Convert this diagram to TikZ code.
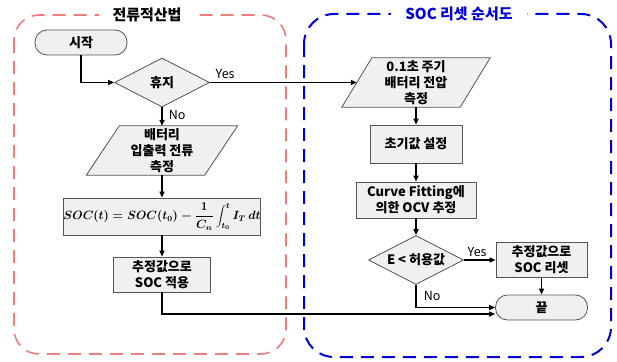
\documentclass[tikz,border=0pt]{standalone}
\usepackage{fontspec}
\setmainfont{Noto Sans CJK KR}
\usetikzlibrary{shapes.geometric,arrows.meta,backgrounds}
\definecolor{redd}{RGB}{240,125,125}
\definecolor{blued}{RGB}{0,0,215}
\definecolor{boxc}{RGB}{240,240,240}
\definecolor{bordc}{RGB}{85,85,85}
\newsavebox{\formbox}
\tikzset{
  shp/.style={draw=bordc, fill=boxc, line width=0.8pt},
  txtfont/.style={font=\fontsize{13}{16}\selectfont\bfseries},
  fbox/.style={shp, txtfont, align=center, inner sep=0pt},
  plain/.style={txtfont, align=center, inner sep=0pt},
  term/.style={shp, txtfont, rounded corners=12pt, minimum width=92pt, minimum height=25pt, inner sep=0pt},
  dia/.style={shp, txtfont, diamond, aspect=1.9, inner sep=0pt, minimum width=95pt, minimum height=49pt},
  arr/.style={-{Triangle[length=6pt,width=5pt]}, line width=1.6pt},
  lbl/.style={font=\fontsize{12.5}{14}\selectfont, inner sep=1pt},
  title/.style={font=\fontsize{15}{17}\selectfont\bfseries, fill=white, inner xsep=14pt, inner ysep=2pt},
  reddash/.style={draw=redd, line width=1.6pt, dash pattern=on 13pt off 8pt, rounded corners=25pt},
  bluedash/.style={draw=blued, line width=2pt, dash pattern=on 13pt off 8pt, rounded corners=30pt}
}
\begin{document}
\sbox{\formbox}{\fontsize{11.5}{14}\selectfont\boldmath$\displaystyle SOC(t)=SOC(t_0)-\frac{1}{C_n}\int_{t_0}^{t} I_T\,dt$}%
\begin{tikzpicture}[x=1pt,y=-1pt]
\useasboundingbox (0,0) rectangle (617,361);
\begin{scope}[on background layer]
\fill[white] (0,0) rectangle (617,361);
\end{scope}
% group frames
\draw[reddash] (14,15) rectangle (286,354);
\node[title] (t1) at (147,15) {전류적산법};
\draw[bluedash] (304,14) rectangle (611,357);
\node[title, text=blued] (t2) at (459,14) {SOC 리셋 순서도};

% left flow
\node[term] (start) at (81,42.5) {시작};
\node[dia] (d1) at (162,82.5) {휴지};
\node[plain, minimum width=118pt, minimum height=49pt] (p1) at (162,150.5) {배터리\\입출력 전류\\측정};
\node[shp, inner sep=0pt, minimum width=193pt, minimum height=37pt] (fm) at (162,216.5) {\usebox{\formbox}};
\node[fbox, minimum width=97pt, minimum height=35pt] (a1) at (162,274.5) {추정값으로\\SOC 적용};

% right flow
\node[plain, minimum width=118pt, minimum height=49pt] (p2) at (416,82.5) {0.1초 주기\\배터리 전압\\측정};
\node[fbox, minimum width=92pt, minimum height=38pt] (b1) at (416,144) {초기값 설정};
\node[fbox, minimum width=120pt, minimum height=36pt] (b2) at (416,200) {Curve Fitting에\\의한 OCV 추정};
\node[dia] (d2) at (416,260) {E < 허용값};
\node[fbox, minimum width=91pt, minimum height=35pt] (b3) at (541.5,260) {추정값으로\\SOC 리셋};
\node[term] (stop) at (541.5,307.5) {끝};

% parallelogram outlines
\begin{scope}[on background layer]
\draw[shp] ([xshift=16.5pt]p1.north west) -- ([xshift=16.5pt]p1.north east) -- ([xshift=-16.5pt]p1.south east) -- ([xshift=-16.5pt]p1.south west) -- cycle;
\draw[shp] ([xshift=15pt]p2.north west) -- ([xshift=15pt]p2.north east) -- ([xshift=-15pt]p2.south east) -- ([xshift=-15pt]p2.south west) -- cycle;
\end{scope}

% connectors
\draw[arr] (start.south) |- (d1.west);
\draw[arr] (d1.south) -- node[lbl, anchor=north west, at start, xshift=5pt, yshift=-1pt] {No} (d1.south |- p1.north);
\draw[arr] (d1.east) -- node[lbl, anchor=south west, at start, xshift=4pt, yshift=2pt] {Yes} (p2.west);
\draw[arr] (p1.south) -- (fm.north);
\draw[arr] (fm.south) -- (a1.north);
\draw[arr] (a1.south) |- ([yshift=-6.5pt]stop.west);
\draw[arr] (p2.south) -- (b1.north);
\draw[arr] (b1.south) -- (b2.north);
\draw[arr] (b2.south) -- (d2.north);
\draw[arr] (d2.east) -- node[lbl, anchor=south west, at start, xshift=2pt, yshift=2pt] {Yes} (b3.west);
\draw[arr] (b3.south) -- (stop.north);
\draw[arr] (d2.south) |- node[lbl, anchor=north west, pos=0.1, xshift=6pt] {No} (stop.west);
\end{tikzpicture}
\end{document}
